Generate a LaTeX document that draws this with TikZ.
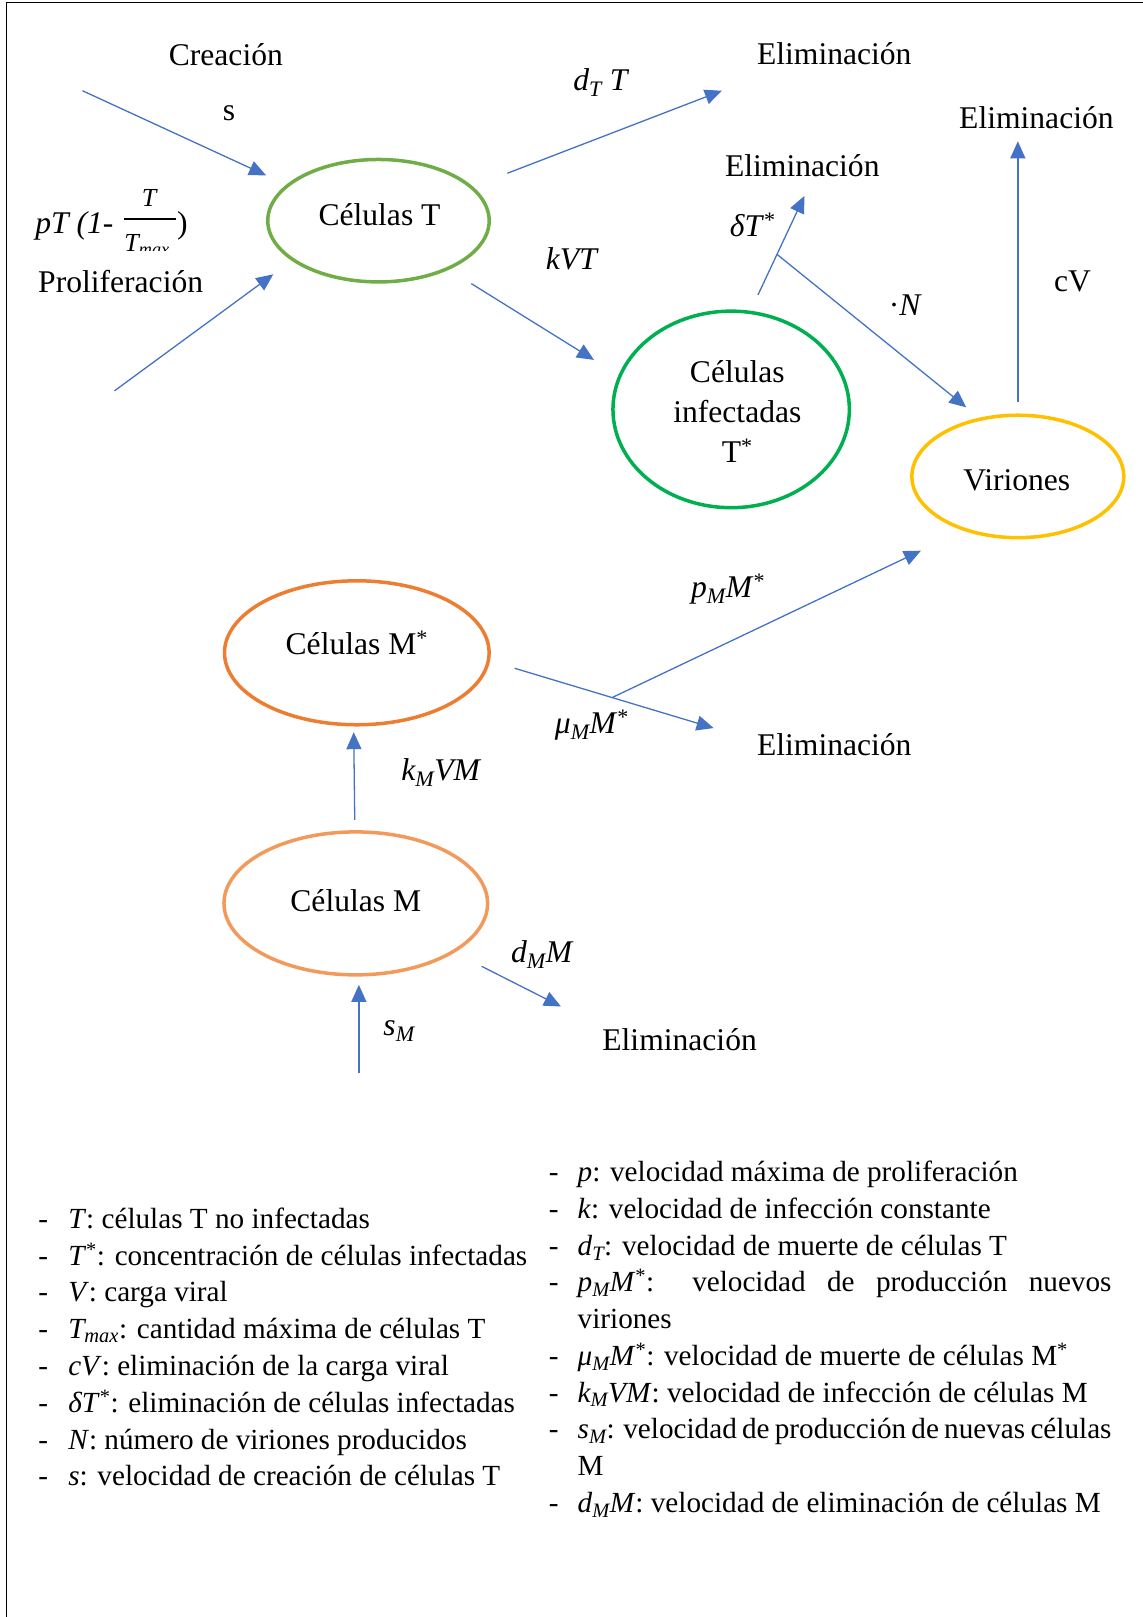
\documentclass[tikz,border=0pt]{standalone}
\usepackage{fontspec}
\setmainfont{Liberation Serif}
\usetikzlibrary{arrows.meta,shapes.geometric,calc}

\definecolor{linkblue}{HTML}{4472C4}
\definecolor{tgreen}{HTML}{70AD47}
\definecolor{igreen}{HTML}{00B050}
\definecolor{viryellow}{HTML}{FFC000}
\definecolor{mstarorange}{HTML}{ED7D31}
\definecolor{morange}{HTML}{F29A5C}

\newcommand{\diagsize}{\fontsize{31.6pt}{40pt}\selectfont}
\newcommand{\legsize}{\fontsize{29.2pt}{36.7pt}\selectfont}
\newcommand{\fracsize}{\fontsize{26pt}{30pt}\selectfont}

\begin{document}
\begin{tikzpicture}[x=1.0316pt, y=-1.0316pt,
  flow/.style={draw=linkblue, line width=1.3pt,
    -{Triangle[length=17pt,width=15pt,fill=linkblue]}},
  cell/.style={ellipse, line width=3.5pt, inner sep=0pt},
  lbl/.style={font=\diagsize, inner sep=0pt},
  legdash/.style={font=\legsize, inner sep=0pt, anchor=base west},
  legitem/.style={font=\legsize, inner sep=0pt, anchor=base west},
]
\useasboundingbox (0,0) rectangle (1108,1568);

% page frame (top and left rules)
\draw[line width=1.7pt] (6.3,1568) -- (6.3,2.4) -- (1108,2.4);

% ---------------- compartments ----------------
\node[cell, draw=tgreen, minimum width=221.5pt, minimum height=122.5pt] (cT) at (367,214) {};
\node[lbl] (cTtext) at (368,208) {Células T};

\node[cell, draw=igreen, minimum width=236.5pt, minimum height=196.6pt] (cI) at (709,397) {};
\node[lbl, align=center] (cItext) at (715,399) {Células\\infectadas\\T\textsuperscript{*}};

\node[cell, draw=viryellow, minimum width=212pt, minimum height=122.5pt] (vir) at (987,462) {};
\node[lbl] (virtext) at (986,466) {Viriones};

\node[cell, draw=mstarorange, minimum width=264.7pt, minimum height=144pt] (cMs) at (346,633) {};
\node[lbl] (cMstext) at (346,623) {Células M\textsuperscript{*}};

\node[cell, draw=morange, minimum width=263.7pt, minimum height=143pt] (cM) at (345,876) {};
\node[lbl] (cMtext) at (345,873) {Células M};

% ---------------- free labels ----------------
\node[lbl] (creac) at (219,53) {Creación};
\node[lbl] (slbl) at (222,110) {s};
\node[lbl] (prolif) at (117,273) {Proliferación};

% proliferation term p T (1 - T / T_max), its lower edge cut off
\begin{scope}
  \clip (20,150) rectangle (200,243);
  \node[font=\diagsize, inner sep=0pt, anchor=base west] (pTa) at (34,226) {\textit{pT (1-}};
  \node[font=\fracsize, inner sep=0pt, anchor=base] (pTnum) at (145.4,200.3) {\textit{T}};
  \node[font=\fracsize, inner sep=0pt, anchor=base west] (pTden) at (120.5,244.3) {\textit{T\textsubscript{max}}};
  \node[font=\diagsize, inner sep=0pt, anchor=base west] (pTb) at (171.5,226) {)};
\end{scope}
\draw[line width=2.5pt] (120.2,212.3) -- (170.6,212.3);

\node[lbl] (dTlbl) at (583,80) {\textit{d\textsubscript{T} T}};
\node[lbl] (elim1) at (809,52) {Eliminación};
\node[lbl] (kVTlbl) at (555,251) {\textit{kVT}};
\node[lbl] (elim2) at (778,161) {Eliminación};
\node[lbl] (dellbl) at (730,218) {\textit{δT}\textsuperscript{*}};
\node[lbl] (Nlbl) at (878,296) {·\textit{N}};
\node[lbl] (elim3) at (1005,114) {Eliminación};
\node[lbl] (cVlbl) at (1040,273) {cV};
\node[lbl] (pMlbl) at (706,571) {\textit{p\textsubscript{M}M}\textsuperscript{*}};
\node[lbl] (muMlbl) at (574,703) {\textit{μ\textsubscript{M}M}\textsuperscript{*}};
\node[lbl] (elim4) at (809,722) {Eliminación};
\node[lbl] (kMlbl) at (428,749) {\textit{k\textsubscript{M}VM}};
\node[lbl] (dMlbl) at (526,926) {\textit{d\textsubscript{M}M}};
\node[lbl] (elim5) at (659,1008) {Eliminación};
\node[lbl] (sMlbl) at (387,1000) {\textit{s\textsubscript{M}}};

% ---------------- connector end points ----------------
\coordinate (sIn) at (80,88);       \coordinate (sTip) at (258,170);
\coordinate (pIn) at (111,379);     \coordinate (pTip) at (265,266);
\coordinate (dTs) at (492,168);     \coordinate (dTe) at (700,88);
\coordinate (kVs) at (457,275);     \coordinate (kVe) at (576,349);
\coordinate (dls) at (735,286);     \coordinate (dle) at (780,190);
\coordinate (Ne)  at (937,395);
\coordinate (cVs) at (987,390);     \coordinate (cVe) at (987,137);
\coordinate (mus) at (499,648);     \coordinate (mue) at (692,706);
\coordinate (pMe) at (893,534);
\coordinate (kMs) at (344,795);     \coordinate (kMe) at (343,710);
\coordinate (dMs) at (467,937);     \coordinate (dMe) at (544,976);
\coordinate (sMs) at (348,1040);    \coordinate (sMe) at (348,955);

% ---------------- flows ----------------
\draw[flow] (sIn) -- (sTip);
\draw[flow] (pIn) -- (pTip);
\draw[flow] (dTs) -- (dTe);
\draw[flow] (kVs) -- (kVe);
\draw[flow] (dls) -- (dle);
\draw[flow] ($(dls)!0.41!(dle)$) -- (Ne);
\draw[flow] (cVs) -- (cVe);
\draw[flow] (mus) -- (mue);
\draw[flow] ($(mus)!0.49!(mue)$) -- (pMe);
\draw[flow] (kMs) -- (kMe);
\draw[flow] (dMs) -- (dMe);
\draw[flow] (sMs) -- (sMe);

% ---------------- legend, left column ----------------
\foreach \k/\txt in {
  0/{\textit{T}: células T no infectadas},
  1/{\textit{T}\textsuperscript{*}: concentración de células infectadas},
  2/{\textit{V}: carga viral},
  3/{\textit{T\textsubscript{max}}: cantidad máxima de células T},
  4/{\textit{cV}: eliminación de la carga viral},
  5/{\textit{δT}\textsuperscript{*}: eliminación de células infectadas},
  6/{\textit{N}: número de viriones producidos},
  7/{\textit{s}: velocidad de creación de células T}}
{
  \node[legdash] (ld\k) at (37,1191+35.7*\k) {-};
  \node[legitem] (lt\k) at (66,1191+35.7*\k) {\txt};
}

% ---------------- legend, right column ----------------
\foreach \k in {0,1,2,3,5,6,7,9}{
  \node[legdash] (rd\k) at (532,1146+35.6*\k) {-};
}
\node[legitem] (rt0) at (560,1146) {\textit{p}: velocidad máxima de proliferación};
\node[legitem] (rt1) at (560,1146+35.6) {\textit{k}: velocidad de infección constante};
\node[legitem] (rt2) at (560,1146+71.2) {\textit{d\textsubscript{T}}: velocidad de muerte de células T};
\node[legitem] (rt3) at (560,1146+106.8) {\makebox[534pt][s]{\textit{p\textsubscript{M}M}\textsuperscript{*}: velocidad de producción nuevos}};
\node[legitem] (rt4) at (560,1146+142.4) {viriones};
\node[legitem] (rt5) at (560,1146+178) {\textit{μ\textsubscript{M}M}\textsuperscript{*}: velocidad de muerte de células M\textsuperscript{*}};
\node[legitem] (rt6) at (560,1146+213.6) {\textit{k\textsubscript{M}VM}: velocidad de infección de células M};
\node[legitem] (rt7) at (560,1146+249.2) {\makebox[534pt][s]{\textit{s\textsubscript{M}}: velocidad de producción de nuevas células}};
\node[legitem] (rt8) at (560,1146+284.8) {M};
\node[legitem] (rt9) at (560,1146+320.4) {\textit{d\textsubscript{M}M}: velocidad de eliminación de células M};

\end{tikzpicture}
\end{document}
